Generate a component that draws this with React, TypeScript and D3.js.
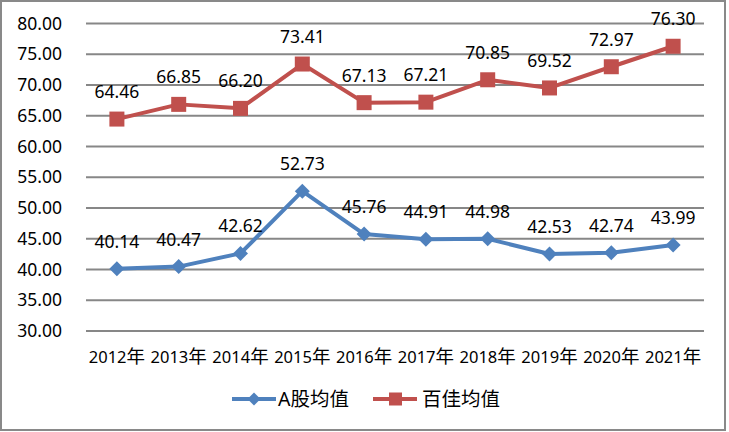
import React from "react";
import * as d3 from "d3";

const years = ["2012", "2013", "2014", "2015", "2016", "2017", "2018", "2019", "2020", "2021"];
const aShares = [40.14, 40.47, 42.62, 52.73, 45.76, 44.91, 44.98, 42.53, 42.74, 43.99];
const top100 = [64.46, 66.85, 66.2, 73.41, 67.13, 67.21, 70.85, 69.52, 72.97, 76.3];
const yTicks = [30, 35, 40, 45, 50, 55, 60, 65, 70, 75, 80];
const seriesNames = ["A股均值", "百佳均值"];

const W = 729;
const H = 432;
const BLUE = "#4F81BD";
const RED = "#C0504D";
const FONT = "'Noto Sans', 'Noto Sans CJK SC', sans-serif";
const CJK = "'Noto Sans CJK SC', sans-serif";
const FS = 17.5;

export default function App() {
  const x = d3.scaleBand<string>().domain(years).range([86, 704]);
  const y = d3.scaleLinear().domain([30, 80]).range([331, 23.5]);
  const cx = (i: number) => (x(years[i]) as number) + x.bandwidth() / 2;
  const line = d3
    .line<number>()
    .x((_, i) => cx(i))
    .y((d) => y(d));
  const diamond = (px: number, py: number, r: number) =>
    `M${px},${py - r}L${px + r},${py}L${px},${py + r}L${px - r},${py}Z`;

  return (
    <svg
      width={W}
      height={H}
      style={{ position: "absolute", left: 0, top: 0, display: "block", background: "#fff" }}
    >
      <rect x={1} y={1} width={724} height={429} fill="#fff" stroke="#898989" strokeWidth={2} />
      {yTicks.map((t) => (
        <g key={t}>
          <line x1={86} x2={704} y1={y(t)} y2={y(t)} stroke="#878787" strokeWidth={2} />
          <text
            x={62}
            y={y(t) + 6.2}
            textAnchor="end"
            fontFamily={FONT}
            fontSize={FS}
            fill="#000"
          >
            {t.toFixed(2)}
          </text>
        </g>
      ))}
      {years.map((yr, i) => (
        <text key={yr} x={cx(i)} y={362.5} textAnchor="middle" fontFamily={FONT} fontSize={16.5} fill="#000">
          {yr}
          <tspan fontFamily={CJK} fontSize={18.5}>年</tspan>
        </text>
      ))}
      <path d={line(top100) || ""} fill="none" stroke={RED} strokeWidth={4} strokeLinejoin="round" />
      {top100.map((v, i) => (
        <rect key={i} x={cx(i) - 7.5} y={y(v) - 7.5} width={15} height={15} fill={RED} />
      ))}
      <path d={line(aShares) || ""} fill="none" stroke={BLUE} strokeWidth={4} strokeLinejoin="round" />
      {aShares.map((v, i) => (
        <path key={i} d={diamond(cx(i), y(v), 7.5)} fill={BLUE} />
      ))}
      {top100.map((v, i) => (
        <text key={"r" + i} x={cx(i)} y={y(v) - 21} textAnchor="middle" fontFamily={FONT} fontSize={FS} fill="#000">
          {v.toFixed(2)}
        </text>
      ))}
      {aShares.map((v, i) => (
        <text key={"b" + i} x={cx(i)} y={y(v) - 21} textAnchor="middle" fontFamily={FONT} fontSize={FS} fill="#000">
          {v.toFixed(2)}
        </text>
      ))}
      <g>
        <line x1={232} x2={276} y1={399} y2={399} stroke={BLUE} strokeWidth={4} />
        <path d={diamond(254, 399, 6.5)} fill={BLUE} />
        <text x={278} y={405.5} fontFamily={FONT} fontSize={19.5} fill="#000">
          A<tspan fontFamily={CJK}>股均值</tspan>
        </text>
        <line x1={373} x2={417} y1={399} y2={399} stroke={RED} strokeWidth={4} />
        <rect x={389} y={392.5} width={13} height={13} fill={RED} />
        <text x={422} y={405.5} fontFamily={CJK} fontSize={19.5} fill="#000">
          {seriesNames[1]}
        </text>
      </g>
    </svg>
  );
}
